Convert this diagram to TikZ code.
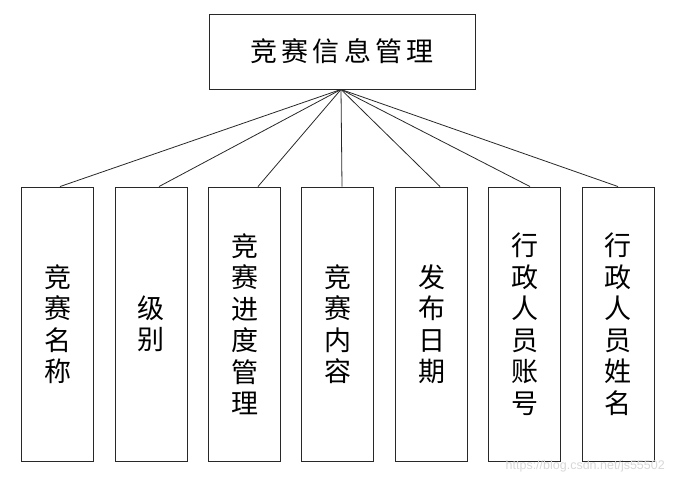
\documentclass[tikz,border=0pt]{standalone}
\usepackage{fontspec}
\setsansfont{Liberation Sans}
\newfontfamily\cjk{Noto Sans CJK SC}
\newfontfamily\cjkwide[LetterSpace=15]{Noto Sans CJK SC}
\definecolor{lineedge}{RGB}{40,40,40}
\definecolor{markgray}{RGB}{215,215,215}

\begin{document}
\begin{tikzpicture}[x=1pt, y=-1pt,
    topbox/.style={rectangle, draw=lineedge, line width=0.9pt, fill=white,
                   minimum width=266pt, minimum height=75pt, inner sep=0pt,
                   font=\cjkwide\fontsize{27}{31}\selectfont},
    itembox/.style={rectangle, draw=lineedge, line width=0.9pt, fill=white,
                    minimum width=72pt, minimum height=274pt, inner sep=0pt, align=center,
                    font=\cjk\fontsize{27}{31.5}\selectfont},
    link/.style={line width=0.8pt, draw=lineedge}
]
    \useasboundingbox (0,0) rectangle (674,484);

    % Root
    \node[topbox] (info) at (342,51.5) {竞赛信息管理};

    % Attributes
    \node[itembox] (name)     at (57.5,324)  {竞\\赛\\名\\称};
    \node[itembox] (level)    at (151,324)   {级\\别};
    \node[itembox] (progress) at (244.5,324) {竞\\赛\\进\\度\\管\\理};
    \node[itembox] (content)  at (337.5,324) {竞\\赛\\内\\容};
    \node[itembox] (date)     at (431.5,324) {发\\布\\日\\期};
    \node[itembox] (account)  at (524.5,324) {行\\政\\人\\员\\账\\号};
    \node[itembox] (staff)    at (618,324)   {行\\政\\人\\员\\姓\\名};

    % Connections from the root
    \foreach \n/\s in {name/2.5, level/8, progress/13.5, content/4.5, date/8.5, account/5.5, staff/0}
        \draw[link] ([xshift=-1pt]info.south) -- ([xshift=\s pt]\n.north);

    % Watermark
    \node[font=\sffamily\fontsize{12.5}{14}\selectfont, text=markgray, anchor=east, inner sep=0pt]
        (mark) at (665,466) {https://blog.csdn.net/js55502};
\end{tikzpicture}
\end{document}
